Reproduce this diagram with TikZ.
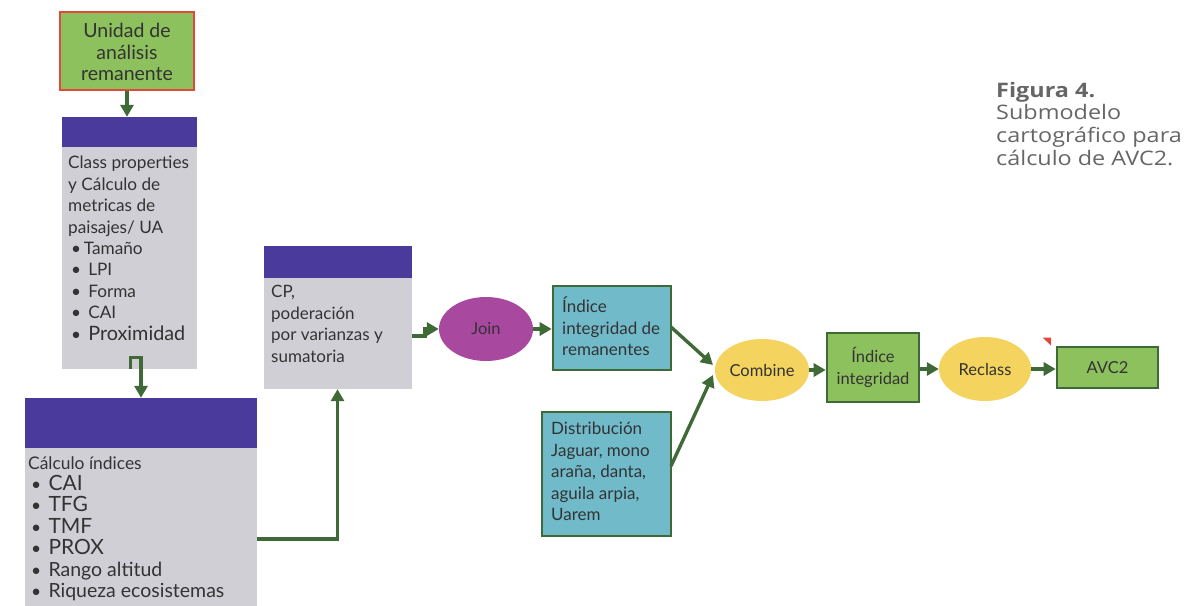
\documentclass[tikz,border=0pt]{standalone}
\usepackage{fontspec}
\setmainfont{Lato}
\newfontfamily\capfont[FakeStretch=1.17]{Open Sans}
\usetikzlibrary{arrows.meta,shapes.geometric}
\definecolor{leaf}{HTML}{8DC15D}
\definecolor{rim}{HTML}{E2483C}
\definecolor{band}{HTML}{4A3A9C}
\definecolor{slab}{HTML}{D1CFD6}
\definecolor{sea}{HTML}{70BACA}
\definecolor{plum}{HTML}{A8489E}
\definecolor{sun}{HTML}{F4D35E}
\definecolor{moss}{HTML}{3F6A37}
\definecolor{ink}{HTML}{333333}
\definecolor{note}{HTML}{666666}
\tikzset{
  flow/.style={draw=moss,line width=3.4pt,-{Triangle[length=12pt,width=13pt]}},
  body/.style={fill=slab,draw=none,inner sep=0pt},
  head/.style={fill=band,draw=none,inner sep=0pt},
  txt/.style={inner sep=0pt,align=left,text=ink,font=\fontsize{17}{21.5}\selectfont},
  ctxt/.style={inner sep=0pt,align=center,text=ink,font=\fontsize{16.5}{22.5}\selectfont},
  databox/.style={fill=sea,draw=moss,line width=2.6pt,inner sep=0pt},
  outbox/.style={fill=leaf,draw=moss,line width=2.6pt,inner sep=0pt},
  tool/.style={ellipse,inner sep=0pt,text=ink,font=\fontsize{16.5}{21.5}\selectfont},
}
\begin{document}
\begin{tikzpicture}[x=1pt,y=-1pt]
\useasboundingbox (0,0) rectangle (1188,605);
\fill[white] (0,0) rectangle (1188,605);

% input layer
\node[fill=leaf,draw=rim,line width=2.4pt,minimum width=134pt,minimum height=78pt,inner sep=0pt] (uni) at (127,51) {};
\node[ctxt,font=\fontsize{19.5}{21.5}\selectfont] (unit) at (127,52) {Unidad de\\análisis\\remanente};

% class metrics box
\node[body,minimum width=135pt,minimum height=252pt] (cls) at (129.5,243) {};
\node[head,minimum width=135pt,minimum height=30pt] (clsh) at (129.5,132) {};
\node[txt,anchor=north west,font=\fontsize{17.2}{21.4}\selectfont] (clst) at (68,156) {Class properties\\y Cálculo de\\metricas de\\paisajes/ UA\\\,•\,Tamaño\\\,•\ \,LPI\\\,•\ \,Forma\\\,•\ \,CAI\\\,•\ \,{\fontsize{19.8}{21.4}\selectfont Proximidad}};

% index calculation box
\node[body,minimum width=232pt,minimum height=220pt] (idx) at (141,508) {};
\node[head,minimum width=232pt,minimum height=50pt] (idxh) at (141,423) {};
\node[txt,anchor=north west,font=\fontsize{17.4}{21.4}\selectfont] (idxt) at (28,456) {Cálculo índices\\\,•\ \,{\fontsize{21}{21.4}\selectfont CAI}\\\,•\ \,{\fontsize{21}{21.4}\selectfont TFG}\\\,•\ \,{\fontsize{21}{21.4}\selectfont TMF}\\\,•\ \,{\fontsize{21}{21.4}\selectfont PROX}\\\,•\ \,{\fontsize{19.5}{21.4}\selectfont Rango altitud}\\\,•\ \,{\fontsize{19.5}{21.4}\selectfont Riqueza ecosistemas}};

% weighting box
\node[body,minimum width=148pt,minimum height=143pt] (cp) at (338,317.5) {};
\node[head,minimum width=148pt,minimum height=32pt] (cph) at (338,262) {};
\node[txt,anchor=north west] (cpt) at (271,285) {CP,\\poderación\\por varianzas y\\sumatoria};

% join
\node[tool,fill=plum,minimum width=94pt,minimum height=64pt] (join) at (486,329) {Join};

% data layers
\node[databox,minimum width=118pt,minimum height=84pt] (rem) at (612,328) {};
\node[txt,anchor=north west] (remt) at (562,297) {Índice\\integridad de\\remanentes};
\node[databox,minimum width=129pt,minimum height=124pt] (dist) at (606.5,474) {};
\node[txt,anchor=north west] (distt) at (551,422) {Distribución\\Jaguar, mono\\araña, danta,\\aguila arpia,\\Uarem};

% combine, integrity, reclass, output
\node[tool,fill=sun,minimum width=94pt,minimum height=62pt] (comb) at (762,370) {Combine};
\node[outbox,minimum width=92pt,minimum height=69pt] (integ) at (873,367.5) {};
\node[ctxt] (integt) at (873,367.5) {Índice\\integridad};
\node[tool,fill=sun,minimum width=92pt,minimum height=64pt] (recl) at (985,369) {Reclass};
\node[outbox,minimum width=101pt,minimum height=41pt] (avc) at (1107.5,367.5) {};
\node[ctxt] (avct) at (1107.5,367.5) {AVC2};

% small red marker
\fill[rim] (1042.5,337.5) -- (1051,337.5) -- (1051,345.5) -- cycle;

% connectors
\draw[flow] (uni.south) -- (clsh.north -| uni.south);
\coordinate (j1) at ([xshift=1pt,yshift=12pt]cls.south);
\draw[flow] ([xshift=1pt]cls.south) -- (j1) -- (j1 -| 141,0) -- (idxh.north);
\coordinate (k1) at (337.5,539);
\draw[flow] (k1 -| idx.east) -- (k1) -- (k1 |- cp.south);
\coordinate (m1) at (425,336);
\draw[flow] (m1 -| cp.east) -- (m1) -- (425,329) -- (join.west);
\draw[flow] (join.east) -- (rem.west |- join.east);
\draw[flow] (671,327) -- (713,365);
\draw[flow] (671,466) -- (713,375);
\draw[flow] (comb.east) -- (integ.west |- comb.east);
\draw[flow] (integ.east |- recl.west) -- (recl.west);
\draw[flow] (recl.east) -- (avc.west |- recl.east);

% caption
\node[anchor=north west,inner sep=0pt,align=left,text=note,font=\capfont\fontsize{20}{22.6}\selectfont] (cap) at (996,82) {\textbf{Figura 4.}\\Submodelo\\cartográfico para\\cálculo de AVC2.};
\end{tikzpicture}
\end{document}
